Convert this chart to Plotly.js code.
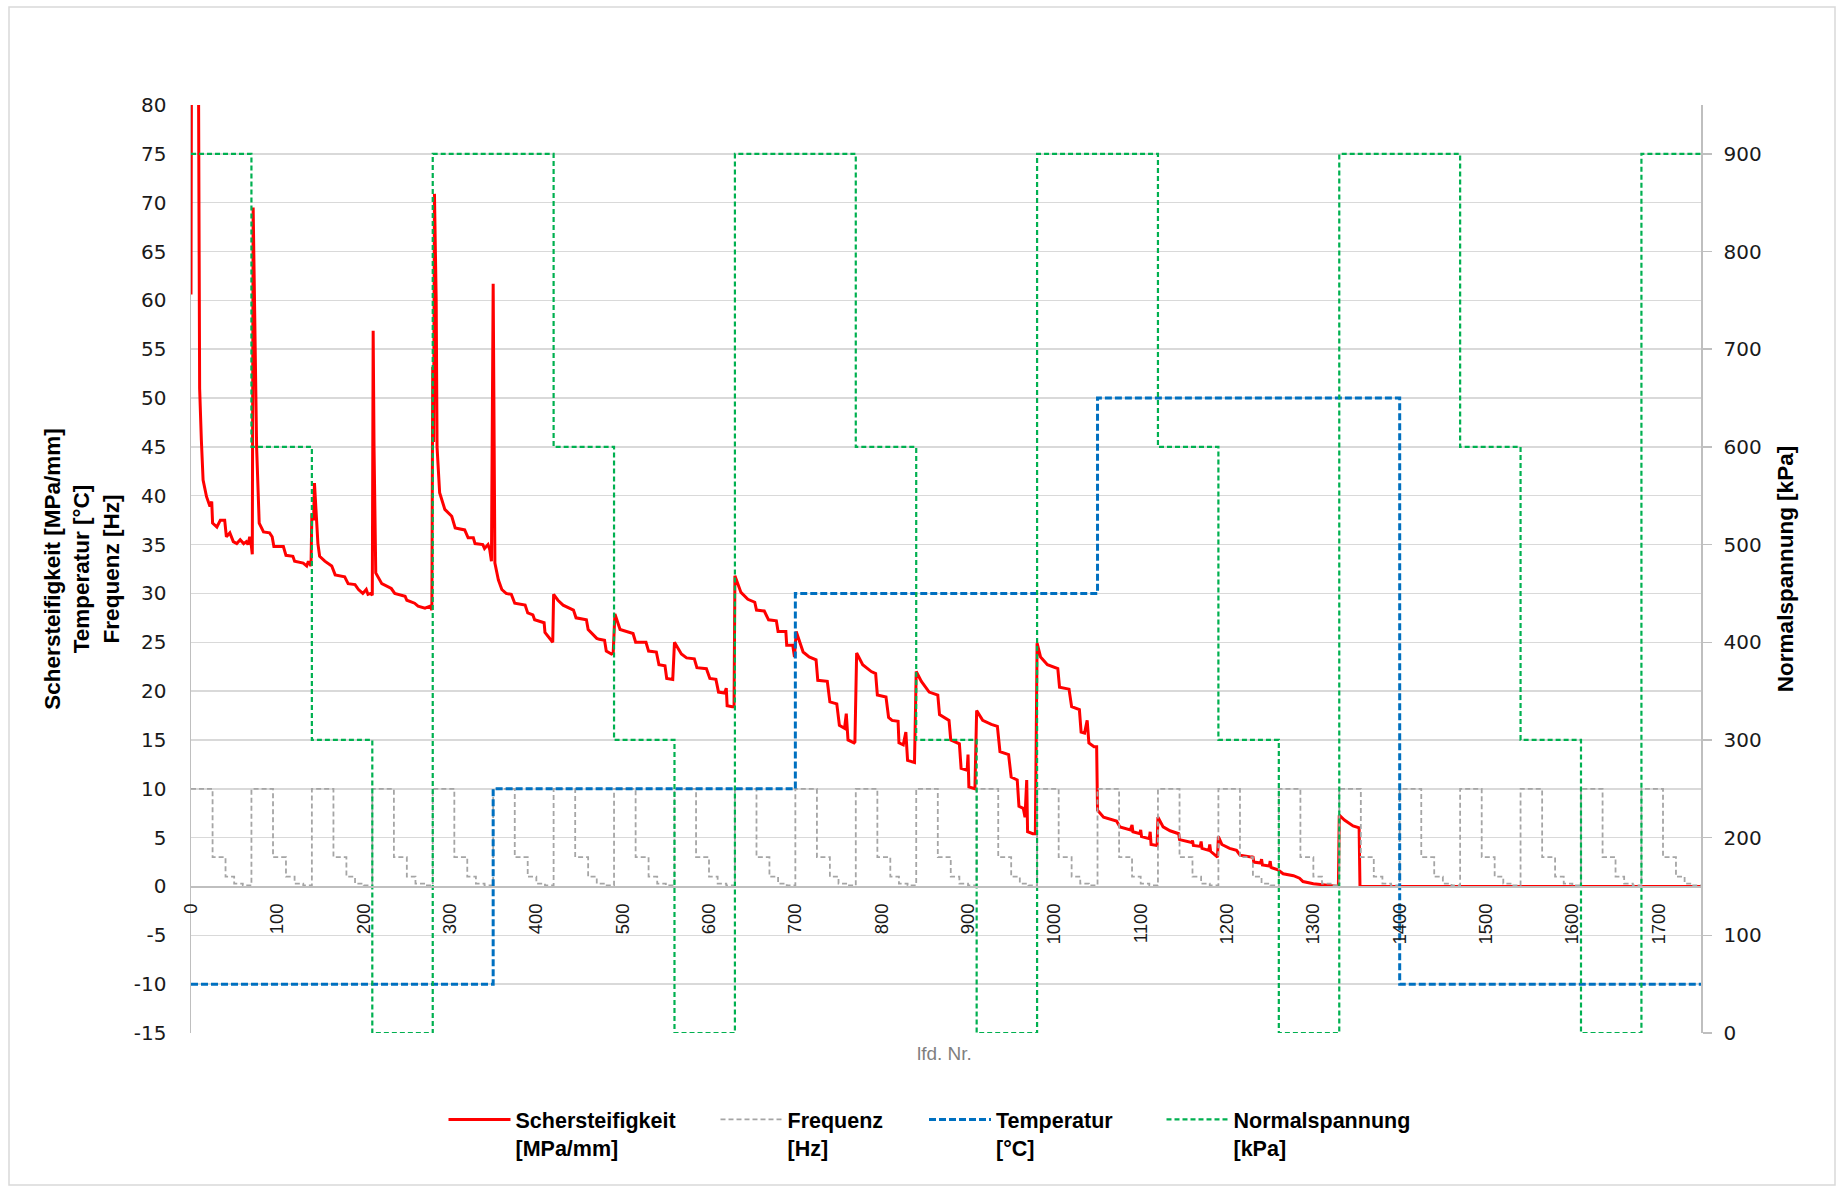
<!DOCTYPE html>
<html><head><meta charset="utf-8">
<script src="https://cdn.plot.ly/plotly-3.0.1.min.js"></script>
<style>html,body{margin:0;padding:0;background:#fff;}#chart{width:1836px;height:1187px;}</style>
</head><body><div id="chart"></div>
<script>
// ---- data ----
// Schersteifigkeit [MPa/mm]: [lfd. Nr., value] vertices of the red line
const stiffPoints = [
[0,60.6],[1,105],[8,100],[9,60.1],[10,51],[12,45.7],[14,41.6],[18,39.9],[22,38.9],[24,39.4],[25,37.2],[30,36.8],[34,37.5],[39,37.5],[41,35.8],[45,36.2],[49,35.3],[53,35.1],[57,35.5],[61,35.1],[64,35.3],[66,35.0],[68,35.8],[70,34.8],[71,34.0],[72,69.5],[74,55],[76,45.0],[79,37.2],[84,36.3],[91,36.2],[94,35.8],[96,34.8],[107,34.8],[110,33.9],[118,33.8],[120,33.3],[130,33.1],[134,32.8],[136,33.3],[139,32.8],
[140,38.2],[142,37.5],[143,41.3],[145,38.2],[147,35.1],[149,33.8],[155,33.3],[163,32.8],[167,31.9],[178,31.7],[182,31.0],[190,30.9],[194,30.4],[199,30.0],[203,30.4],[205,29.9],[208,30.0],[210,29.8],
[211,56.9],[212,45],[214,32.1],[221,31.0],[232,30.5],[236,30.0],[248,29.7],[250,29.3],[259,29.0],[263,28.7],[271,28.5],[277,28.7],[279,28.3],
[280,53.2],[281,45.5],[282,70.9],[284,60],[285,45.0],[288,40.3],[294,38.6],[302,37.9],[306,36.7],[317,36.5],[321,35.7],[327,35.7],[329,35.1],[335,35.0],[338,35.0],[340,34.6],[344,35.0],[346,34.5],[348,33.3],
[350,61.7],[352,33.1],[356,31.4],[360,30.4],[365,30.0],[371,29.9],[375,29.0],[387,28.8],[390,28.0],[396,27.8],[398,27.3],[409,27.0],[410,26.0],[419,25.0],
[420,29.9],[425,29.3],[431,28.8],[443,28.3],[446,27.5],[458,27.3],[460,26.3],[470,25.4],[473,25.3],[479,25.2],[481,24.1],[487,23.8],[489,23.9],
[491,27.9],[497,26.3],[504,26.1],[512,25.9],[515,25.0],[527,25.0],[530,24.1],[539,24.0],[542,22.7],[549,22.6],[551,21.3],[558,21.2],
[560,25.0],[568,23.8],[574,23.4],[583,23.3],[586,22.4],[597,22.3],[601,21.3],[608,21.2],[611,19.9],[618,19.8],[620,20.3],[621,18.5],[627,18.4],[629,18.4],
[630,31.8],[637,30.1],[645,29.4],[653,29.1],[655,28.3],[664,28.2],[669,27.3],[678,27.2],[680,26.1],[689,26.1],[690,24.7],[697,24.7],[699,23.5],
[701,26.1],[709,24.0],[716,23.5],[724,23.2],[726,21.1],[737,21.0],[740,18.9],[748,18.7],[751,16.5],[757,16.2],[759,17.7],[761,15.0],[768,14.7],[769,14.8],
[771,23.9],[778,22.7],[788,22.0],[793,21.8],[795,19.6],[805,19.4],[808,17.3],[812,17.0],[819,16.9],[820,14.7],[825,14.5],[828,15.8],[830,12.9],[838,12.7],
[840,22.0],[846,21.0],[855,19.9],[865,19.6],[867,17.6],[878,17.0],[880,15.0],[890,14.6],[892,12.1],[899,11.9],[900,13.5],[901,10.2],[908,10.0],
[910,18.0],[917,17.0],[927,16.6],[934,16.4],[937,13.8],[947,13.5],[950,11.2],[957,10.9],[959,8.2],[964,8.0],[966,7.1],[968,10.9],[969,5.6],[975,5.4],[978,5.4],
[980,24.9],[984,23.5],[992,22.7],[1004,22.3],[1006,20.4],[1017,20.2],[1020,18.4],[1029,18.1],[1031,15.8],[1035,15.7],[1038,17.0],[1040,14.7],[1046,14.3],[1049,14.3],
[1050,7.8],[1057,7.1],[1064,6.9],[1072,6.7],[1076,6.1],[1088,5.8],[1090,6.3],[1091,5.6],[1099,5.4],[1100,5.8],[1101,5.1],[1110,4.9],[1111,5.6],[1112,4.3],[1119,4.2],
[1120,7.1],[1126,6.1],[1134,5.7],[1144,5.4],[1145,4.8],[1159,4.5],[1160,4.7],[1161,4.2],[1169,4.1],[1170,4.6],[1171,3.9],[1179,3.7],[1180,4.3],[1181,3.6],[1189,3.0],
[1190,5.1],[1194,4.3],[1203,3.9],[1211,3.7],[1215,3.2],[1229,3.0],[1230,3.1],[1231,2.5],[1239,2.4],[1240,2.8],[1241,2.2],[1249,2.1],[1250,2.6],[1251,1.95],[1259,1.7],
[1265,1.3],[1277,1.1],[1284,0.85],[1288,0.5],[1300,0.27],[1311,0.17],[1323,0.07],[1329,0.0],
[1330,7.3],[1336,6.8],[1346,6.2],[1353,6.0],[1354,0.0],[1749,0.0]
];
// Temperatur [°C]: step change points
const tempX = [0, 350, 700, 1050, 1400, 1749];
const tempY = [-10, 10, 30, 50, -10, -10];
// Normalspannung [kPa]: step change points
const normalX = [0,70,140,210,280,420,490,560,630,770,840,910,980,1120,1190,1260,1330,1470,1540,1610,1680,1749];
const normalY = [900,600,300,0,900,600,300,0,900,600,300,0,900,600,300,0,900,600,300,0,900,900];
// Frequenz [Hz]: each 70-point block repeats the same frequency sweep
const freqBlockStarts = [0,70,140,210,280,350,420,490,560,630,700,770,840,910,980,1050,1120,1190,1260,1330,1400,1470,1540,1610,1680];
const freqStepOffsets = [0, 25, 40, 50, 60];
const freqStepValues = [10, 3, 1, 0.3, 0.1];
const lastIndex = 1749;
// tick labels
const yTickVals = [-15,-10,-5,0,5,10,15,20,25,30,35,40,45,50,55,60,65,70,75,80];
const yTickText = ['-15','-10','-5','0','5','10','15','20','25','30','35','40','45','50','55','60','65','70','75','80'];
const y2TickVals = [0,100,200,300,400,500,600,700,800,900];
const xTickVals = [0,100,200,300,400,500,600,700,800,900,1000,1100,1200,1300,1400,1500,1600,1700];

// ---- build traces ----
const stiffX = stiffPoints.map(p => p[0]);
const stiffY = stiffPoints.map(p => p[1]);
const freqX = [], freqY = [];
freqBlockStarts.forEach(b => {
  freqStepOffsets.forEach((o, i) => { freqX.push(b + o); freqY.push(freqStepValues[i]); });
});
freqX.push(lastIndex); freqY.push(freqStepValues[freqStepValues.length - 1]);

const L = 191, R = 135, T = 105, B = 154, W = 1836, H = 1187;
const pw = W - L - R, ph = H - T - B;
const px = v => (v - L) / pw;      // page px -> paper x
const py = v => (H - B - v) / ph;  // page px -> paper y

const titleFont = {family: 'Liberation Sans, Arial, sans-serif', size: 22.5, color: '#000', weight: 700};
const legendFont = {family: 'Liberation Sans, Arial, sans-serif', size: 21.5, color: '#000', weight: 700};
const tickFont = {family: 'DejaVu Sans, Verdana, sans-serif', size: 20, color: '#1a1a1a'};

const traces = [
  {x: stiffX, y: stiffY, mode: 'lines', name: 'Schersteifigkeit<br>[MPa/mm]',
   line: {color: '#FF0000', width: 3}, legend: 'legend'},
  {x: freqX, y: freqY, mode: 'lines', name: 'Frequenz<br>[Hz]',
   line: {color: '#A5A5A5', width: 1.8, dash: '5px,3px', shape: 'hv'}, legend: 'legend2'},
  {x: tempX, y: tempY, mode: 'lines', name: 'Temperatur<br>[°C]',
   line: {color: '#0070C0', width: 3, dash: '7px,3px', shape: 'hv'}, legend: 'legend3'},
  {x: normalX, y: normalY, mode: 'lines', name: 'Normalspannung<br>[kPa]', yaxis: 'y2',
   line: {color: '#00B050', width: 2.2, dash: '5px,3px', shape: 'hv'}, legend: 'legend4'}
];

const legBase = {orientation: 'h', xanchor: 'left', yanchor: 'top', valign: 'top',
  font: legendFont, itemwidth: 62, bgcolor: 'rgba(0,0,0,0)', y: py(1099)};

const layout = {
  width: W, height: H,
  margin: {l: L, r: R, t: T, b: B},
  paper_bgcolor: '#fff', plot_bgcolor: '#fff',
  showlegend: true,
  xaxis: {range: [0, lastIndex], anchor: 'free', position: 15/95,
    showgrid: false, zeroline: false, showline: true, linecolor: '#BFBFBF', linewidth: 1.5,
    tickmode: 'array', tickvals: xTickVals, tickangle: -90, ticks: '',
    tickfont: {family: 'Liberation Sans, Arial, sans-serif', size: 18.5, color: '#1a1a1a'},
    ticklabelstandoff: 8},
  yaxis: {range: [-15, 80], tickmode: 'array', tickvals: yTickVals, ticktext: yTickText,
    showgrid: true, gridcolor: '#D9D9D9', gridwidth: 1.5, zeroline: false,
    showline: true, linecolor: '#BFBFBF', linewidth: 1.5, ticks: '', ticklabelstandoff: 19,
    tickfont: tickFont,
    title: {text: 'Schersteifigkeit [MPa/mm]<br>Temperatur [°C]<br>Frequenz [Hz]', font: titleFont, standoff: 8}},
  yaxis2: {overlaying: 'y', side: 'right', range: [0, 950], tickmode: 'array', tickvals: y2TickVals,
    showgrid: false, zeroline: false, showline: true, linecolor: '#BFBFBF', linewidth: 1.5,
    ticks: 'outside', ticklen: 9, tickwidth: 1.5, tickcolor: '#BFBFBF', ticklabelstandoff: 8,
    tickfont: tickFont,
    title: {text: 'Normalspannung [kPa]', font: titleFont, standoff: 16}},
  legend: Object.assign({}, legBase, {x: px(443.5)}),
  legend2: Object.assign({}, legBase, {x: px(715.5)}),
  legend3: Object.assign({}, legBase, {x: px(924)}),
  legend4: Object.assign({}, legBase, {x: px(1161.5)}),
  annotations: [{xref: 'paper', yref: 'paper', x: px(944), y: py(1053), text: 'lfd. Nr.',
    showarrow: false, xanchor: 'center', yanchor: 'middle',
    font: {family: 'Liberation Sans, Arial, sans-serif', size: 19, color: '#7F7F7F'}}],
  shapes: [{type: 'rect', xref: 'paper', yref: 'paper', x0: px(9), x1: px(1835), y0: py(1185), y1: py(7),
    line: {color: '#D9D9D9', width: 1.5}, fillcolor: 'rgba(0,0,0,0)', layer: 'below'}]
};

Plotly.newPlot('chart', traces, layout, {staticPlot: true, displayModeBar: false});
</script></body></html>
